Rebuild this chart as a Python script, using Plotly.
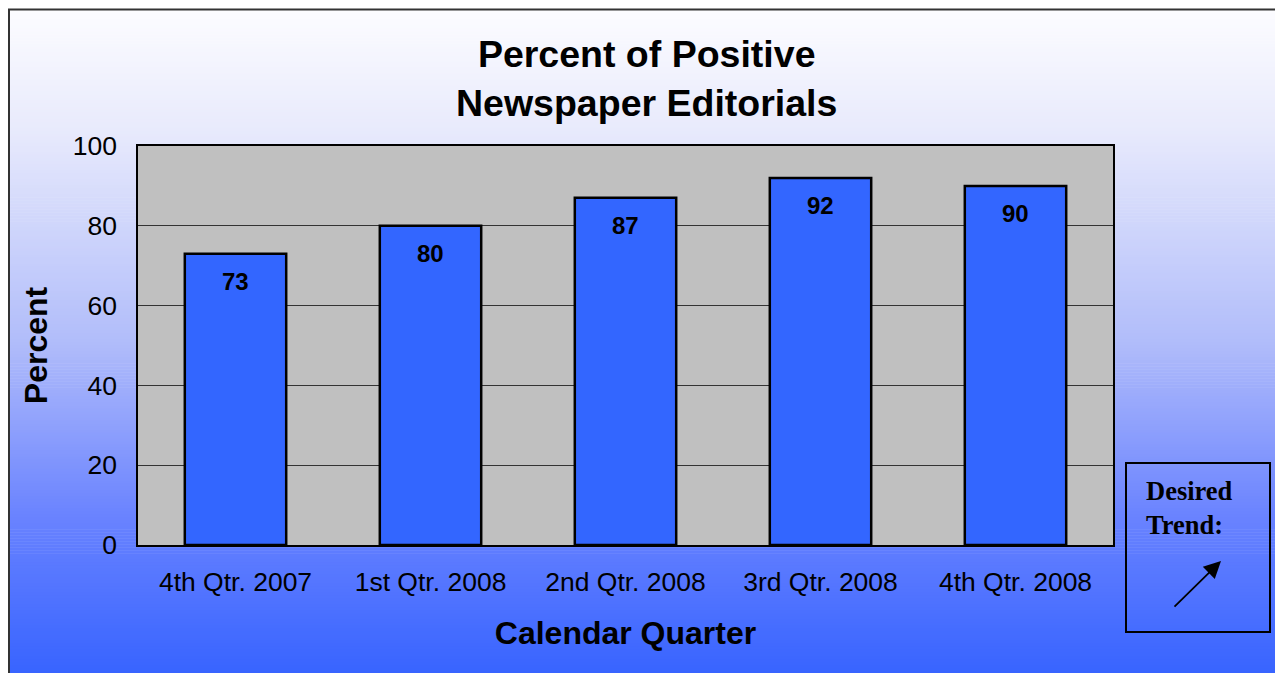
import plotly.graph_objects as go

# data
quarters = ["4th Qtr. 2007", "1st Qtr. 2008", "2nd Qtr. 2008", "3rd Qtr. 2008", "4th Qtr. 2008"]
percent = [73, 80, 87, 92, 90]
y_ticks = [0, 20, 40, 60, 80, 100]

# the page body adds an 8px margin, so the figure is laid out in screen pixels minus 8
OFF = 8
W, H = 1283 - OFF, 673 - OFF
L, T = 138 - OFF, 146 - OFF
R, B = W - (1113 - OFF), H - (545 - OFF)
PW, PH = W - L - R, H - T - B


def px_x(px):
    # screen pixel x -> paper x
    return (px - OFF - L) / PW


def px_y(py):
    # screen pixel y -> paper y
    return (H - B - (py - OFF)) / PH


# background gradient stops (screen y, rgb)
stops = [(10, (252, 252, 255)), (130, (232, 234, 252)), (345, (176, 188, 250)),
         (520, (104, 130, 255)), (673, (56, 100, 255))]


def grad(py):
    for (y0, c0), (y1, c1) in zip(stops, stops[1:]):
        if py <= y1:
            t = (py - y0) / (y1 - y0)
            return "rgb(%d,%d,%d)" % tuple(round(a + (b - a) * t) for a, b in zip(c0, c1))
    return "rgb(%d,%d,%d)" % stops[-1][1]


shapes = []
n = 220
top, bot = 10, 674
step = (bot - top) / n
for i in range(n):
    y0 = top + i * step
    shapes.append(dict(type="rect", xref="paper", yref="paper", layer="below",
                       x0=px_x(8), x1=px_x(1282), y0=px_y(y0), y1=px_y(y0 + step + 0.6),
                       fillcolor=grad(y0 + step / 2), line=dict(width=0)))

# outer frame
shapes.append(dict(type="rect", xref="paper", yref="paper", layer="below",
                   x0=px_x(9), x1=px_x(1281.5), y0=px_y(690), y1=px_y(9.5),
                   fillcolor="rgba(0,0,0,0)", line=dict(color="#333333", width=2)))
# plot area fill
shapes.append(dict(type="rect", xref="paper", yref="paper", layer="below",
                   x0=0, x1=1, y0=0, y1=1, fillcolor="#C0C0C0", line=dict(width=0)))
# desired trend box
shapes.append(dict(type="rect", xref="paper", yref="paper",
                   x0=px_x(1126), x1=px_x(1270), y0=px_y(632), y1=px_y(463),
                   fillcolor="rgba(0,0,0,0)", line=dict(color="black", width=2)))

fig = go.Figure()
fig.add_trace(go.Bar(x=quarters, y=percent, width=0.52,
                     marker=dict(color="#3366FF", line=dict(color="black", width=2.5)),
                     hoverinfo="x+y"))

annotations = []
for q, v in zip(quarters, percent):
    annotations.append(dict(x=q, y=v, text="<b>%d</b>" % v, showarrow=False,
                            yanchor="top", yshift=-12,
                            font=dict(family="Liberation Sans, Arial", size=24, color="black")))

# chart title
annotations.append(dict(xref="paper", yref="paper", x=px_x(646), y=px_y(79),
                        xanchor="center", yanchor="middle", showarrow=False,
                        text="<b>Percent of Positive<br>Newspaper Editorials</b>",
                        font=dict(family="Liberation Sans, Arial", size=37.5, color="black")))

annotations.append(dict(xref="paper", yref="paper", x=px_x(1144), y=px_y(474),
                        xanchor="left", yanchor="top", align="left", showarrow=False,
                        text="<b>Desired<br>Trend:</b>",
                        font=dict(family="Liberation Serif, Times New Roman", size=26.5, color="black")))
annotations.append(dict(xref="paper", yref="paper", x=px_x(1221), y=px_y(561),
                        ax=-48, ay=47, text="", showarrow=True,
                        arrowhead=2, arrowsize=1.9, arrowwidth=1.8, arrowcolor="black"))

fig.update_layout(
    width=W, height=H,
    margin=dict(l=L, r=R, t=T, b=B),
    paper_bgcolor="white",
    plot_bgcolor="rgba(0,0,0,0)",
    showlegend=False,
    font=dict(family="Liberation Sans, Arial", color="black"),
    shapes=shapes,
    annotations=annotations,
    xaxis=dict(showgrid=False, showline=True, mirror=True, linecolor="black", linewidth=1.5,
               tickfont=dict(size=26.5), ticks="", ticklabelstandoff=12,
               title=dict(text="<b>Calendar Quarter</b>", font=dict(size=32), standoff=26)),
    yaxis=dict(range=[0, 100], tickvals=y_ticks, showgrid=True, gridcolor="#333333", gridwidth=1,
               showline=True, mirror=True, linecolor="black", linewidth=1.5, zeroline=False,
               tickfont=dict(size=26.5), ticks="", ticklabelstandoff=14,
               title=dict(text="<b>Percent</b>", font=dict(size=32), standoff=16)),
)

fig.write_html("out.html")
